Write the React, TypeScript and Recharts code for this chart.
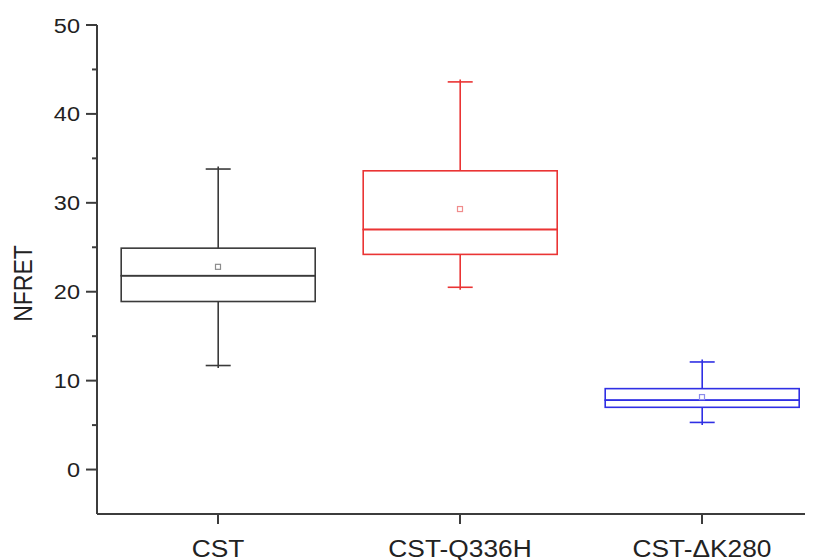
import React from 'react';
import { ComposedChart, Bar, Line, XAxis, YAxis } from 'recharts';

const categories = ['CST', 'CST-Q336H', 'CST-ΔK280'];
const mins = [11.7, 20.5, 5.3];
const q1s = [18.9, 24.2, 7.0];
const medians = [21.8, 27.0, 7.8];
const q3s = [24.9, 33.6, 9.1];
const maxs = [33.8, 43.6, 12.1];
const means = [22.8, 29.3, 8.15];
const yTicks = [0, 5, 10, 15, 20, 25, 30, 35, 40, 45, 50];

const boxColors = ['#3a3a3a', '#ea3434', '#2f2fe4'];
const meanColors = ['#8c8c8c', '#f08c8c', '#8c8cec'];
const FONT = '"Liberation Sans", Arial, sans-serif';
const AXIS = '#3c3c3c';
const SW = 1.6;
const CAP = 12.5;

const data = categories.map((name, i) => ({
  name,
  base: mins[i],
  lowW: q1s[i] - mins[i],
  lowB: medians[i] - q1s[i],
  highB: q3s[i] - medians[i],
  highW: maxs[i] - q3s[i],
  mean: means[i],
}));

const Empty = () => <g />;

const LowWhisker = (p: any) => {
  const c = boxColors[p.index];
  const cx = p.x + p.width / 2;
  const top = p.y;
  const bot = p.y + p.height;
  return (
    <g stroke={c} strokeWidth={SW} fill="none">
      <line x1={cx} y1={top} x2={cx} y2={bot + 2.5} />
      <line x1={cx - CAP} y1={bot} x2={cx + CAP} y2={bot} />
    </g>
  );
};

const HighWhisker = (p: any) => {
  const c = boxColors[p.index];
  const cx = p.x + p.width / 2;
  const top = p.y;
  const bot = p.y + p.height;
  return (
    <g stroke={c} strokeWidth={SW} fill="none">
      <line x1={cx} y1={top - 2.5} x2={cx} y2={bot} />
      <line x1={cx - CAP} y1={top} x2={cx + CAP} y2={top} />
    </g>
  );
};

const BoxPart = (p: any) => {
  const c = boxColors[p.index];
  return (
    <rect x={p.x} y={p.y} width={p.width} height={p.height} fill="none" stroke={c} strokeWidth={SW} />
  );
};

const MeanDot = (p: any) => {
  if (p.cx == null || p.cy == null) return <g key={p.key} />;
  return (
    <rect
      key={p.key}
      x={p.cx - 2.5}
      y={p.cy - 2.5}
      width={5}
      height={5}
      fill="none"
      stroke={meanColors[p.index]}
      strokeWidth={1.2}
    />
  );
};

const YTick = (p: any) => {
  const v = p.payload.value;
  const major = v % 10 === 0;
  const axisX = p.x + 17;
  return (
    <g>
      <line x1={axisX - (major ? 11 : 5)} y1={p.y} x2={axisX} y2={p.y} stroke={AXIS} strokeWidth={2} />
      {major && (
        <g transform={`translate(${p.x},${p.y}) scale(1.12,1)`}>
          <text x={0} y={0} dy="0.36em" textAnchor="end" fontSize={21} fontFamily={FONT} fill="#222">
            {v}
          </text>
        </g>
      )}
    </g>
  );
};

const XTick = (p: any) => (
  <g transform={`translate(${p.x},${p.y}) scale(1.12,1)`}>
    <text x={0} y={0} dy="0.71em" textAnchor="middle" fontSize={23.5} fontFamily={FONT} fill="#222">
      {p.payload.value}
    </text>
  </g>
);

const YLabel = (p: any) => {
  const vb = p.viewBox || { x: 0, y: 17, width: 89, height: 489 };
  const cx = vb.x + 15;
  const cy = vb.y + vb.height / 2 + 14;
  return (
    <g transform={`translate(${cx},${cy}) rotate(-90) scale(1,1.12)`}>
      <text x={0} y={0} dy="0.36em" textAnchor="middle" fontSize={23} fontFamily={FONT} fill="#222">
        NFRET
      </text>
    </g>
  );
};

export default function App() {
  return (
    <div style={{ width: 805, height: 552, overflow: 'hidden', background: '#fff' }}>
      <ComposedChart
        width={815}
        height={552}
        data={data}
        margin={{ top: 17, right: 0, bottom: 0, left: 0 }}
        barCategoryGap="10%"
      >
        <XAxis
          dataKey="name"
          height={46}
          tickSize={10}
          tickMargin={16}
          axisLine={{ stroke: AXIS, strokeWidth: 2 }}
          tickLine={{ stroke: AXIS, strokeWidth: 2 }}
          tick={(p: any) => <XTick {...p} />}
          interval={0}
        />
        <YAxis
          type="number"
          domain={[-5, 50]}
          ticks={yTicks}
          allowDataOverflow
          width={89}
          tickSize={11}
          tickMargin={6}
          tickLine={false}
          axisLine={{ stroke: AXIS, strokeWidth: 2 }}
          tick={(p: any) => <YTick {...p} />}
          interval={0}
          label={{ content: (p: any) => <YLabel {...p} /> }}
        />
        <Bar dataKey="base" stackId="box" shape={<Empty />} isAnimationActive={false} />
        <Bar dataKey="lowW" stackId="box" shape={(p: any) => <LowWhisker {...p} />} isAnimationActive={false} />
        <Bar dataKey="lowB" stackId="box" shape={(p: any) => <BoxPart {...p} />} isAnimationActive={false} />
        <Bar dataKey="highB" stackId="box" shape={(p: any) => <BoxPart {...p} />} isAnimationActive={false} />
        <Bar dataKey="highW" stackId="box" shape={(p: any) => <HighWhisker {...p} />} isAnimationActive={false} />
        <Line
          dataKey="mean"
          stroke="none"
          strokeWidth={0}
          dot={(p: any) => <MeanDot {...p} />}
          activeDot={false}
          isAnimationActive={false}
        />
      </ComposedChart>
    </div>
  );
}
